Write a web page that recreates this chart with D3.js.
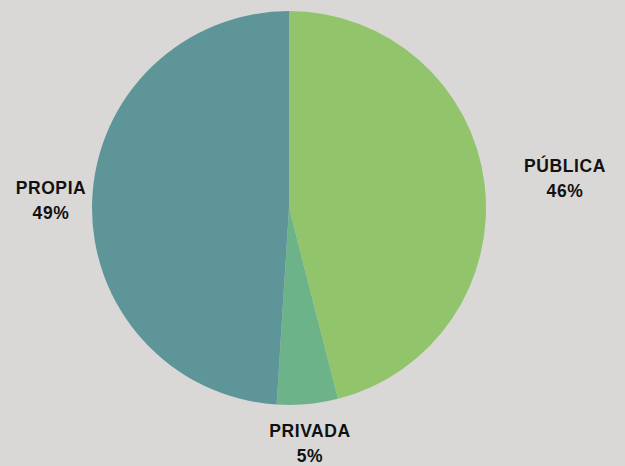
<!DOCTYPE html>
<html><head><meta charset="utf-8">
<script src="https://cdn.jsdelivr.net/npm/d3@7"></script>
<style>html,body{margin:0;padding:0;background:#d9d8d7;}svg{display:block;}</style>
</head><body>
<svg id="c" width="625" height="466"></svg>
<script>
const categories = ["PÚBLICA", "PRIVADA", "PROPIA"];
const values = [46, 5, 49];
const colors = ["#92c46b", "#6cb38a", "#5e9598"];
const labelPos = [[565, 172], [310, 437], [51, 194]];

const svg = d3.select("#c");
svg.append("rect").attr("width",625).attr("height",466).attr("fill","#d9d8d7");
const cx = 289, cy = 208, r = 197;
const pie = d3.pie().sort(null).value(d => d)(values);
const arc = d3.arc().innerRadius(0).outerRadius(r);
const g = svg.append("g").attr("transform", `translate(${cx},${cy})`);
g.selectAll("path").data(pie).join("path")
  .attr("d", arc).attr("fill", (d,i) => colors[i]);

const lab = svg.append("g").attr("font-family","Liberation Sans, Arial, sans-serif")
  .attr("font-weight","bold").attr("font-size",17.5).attr("letter-spacing",0.6)
  .attr("fill","#111").attr("text-anchor","middle");
categories.forEach((c,i) => {
  const t = lab.append("text").attr("x",labelPos[i][0]).attr("y",labelPos[i][1]);
  t.append("tspan").attr("x",labelPos[i][0]).text(c);
  t.append("tspan").attr("x",labelPos[i][0]).attr("dy",25).text(values[i] + "%");
});
</script>
</body></html>
